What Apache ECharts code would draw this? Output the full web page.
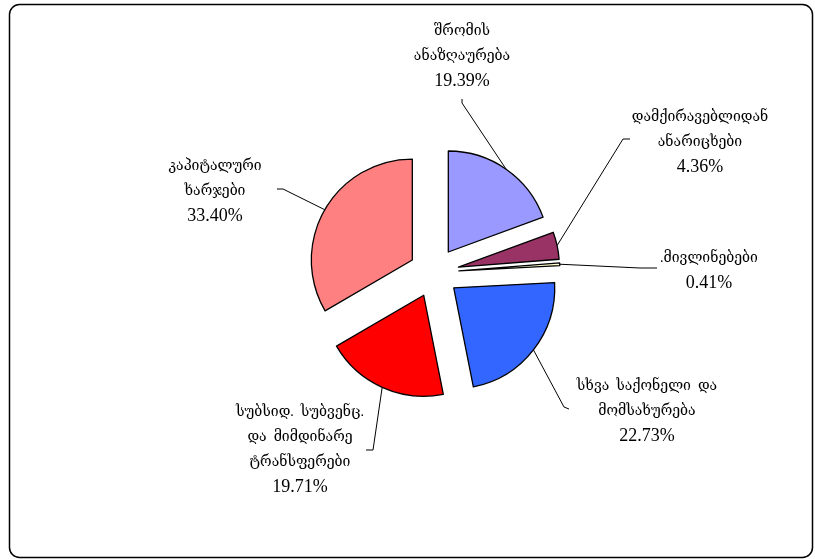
<!DOCTYPE html>
<html>
<head>
<meta charset="utf-8">
<script src="https://cdn.jsdelivr.net/npm/echarts@6/dist/echarts.min.js"></script>
<style>
  html, body { margin: 0; padding: 0; background: #fff; }
  #chart { width: 815px; height: 559px; }
</style>
</head>
<body>
<div id="chart"></div>
<script>
// ---- data ----
const categories = [
  'შრომის\nანაზღაურება',
  'დამქირავებლიდან\nანარიცხები',
  '.მივლინებები',
  'სხვა  საქონელი  და\nმომსახურება',
  'სუბსიდ.  სუბვენც.\nდა  მიმდინარე\nტრანსფერები',
  'კაპიტალური\nხარჯები'
];
const values = [19.39, 4.36, 0.41, 22.73, 19.71, 33.40];

// ---- styling / layout (kept apart from the data) ----
const sliceColors = ['#9999FF', '#993366', '#FFFFCC', '#3366FF', '#FF0000', '#FF8080'];
const labelCenters = [[462, 56], [700, 142], [709, 271], [647, 411], [300, 449.5], [215, 191]];
const guideTails = [
  [[462, 103], [462, 99]],
  [[623, 139], [630, 139]],
  [[640, 268], [657, 268]],
  [[564, 407], [569, 409]],
  [[373, 450], [366, 450]],
  [[283, 189], [277, 189]]
];
const explode = 25;
const FONT = '"Liberation Serif", "DejaVu Serif", "Times New Roman", serif';

const chart = echarts.init(document.getElementById('chart'), null, { renderer: 'canvas' });

const sliceData = values.map((v, i) => ({
  name: categories[i],
  value: v,
  selected: true,
  itemStyle: { color: sliceColors[i] }
}));
const labelData = values.map((v, i) => ({ name: categories[i], value: v }));

const option = {
  animation: false,
  backgroundColor: '#fff',
  graphic: [{
    type: 'rect',
    shape: { x: 9.5, y: 4.5, width: 803, height: 553, r: 10 },
    style: { fill: 'none', stroke: '#000', lineWidth: 1.5 },
    silent: true,
    z: 0
  }],
  series: [
    {
      type: 'pie',
      center: [434, 272.5],
      radius: 101,
      startAngle: 90,
      clockwise: true,
      selectedMode: 'multiple',
      selectedOffset: explode,
      avoidLabelOverlap: false,
      label: { show: false },
      labelLine: { show: false },
      itemStyle: { borderColor: '#000', borderWidth: 1.3 },
      select: { itemStyle: { borderColor: '#000', borderWidth: 1.3 } },
      emphasis: { disabled: true },
      data: sliceData
    },
    {
      type: 'pie',
      center: [434, 272.5],
      radius: 101,
      startAngle: 90,
      clockwise: true,
      silent: true,
      avoidLabelOverlap: false,
      itemStyle: { color: 'rgba(0,0,0,0)', borderWidth: 0 },
      emphasis: { disabled: true },
      label: {
        show: true,
        position: 'outside',
        color: '#000',
        fontFamily: FONT,
        fontSize: 18,
        lineHeight: 25,
        align: 'center',
        formatter: p => p.name.split('\n').map(s => '{g|' + s + '}').join('\n') +
          '\n{p|' + p.value.toFixed(2) + '%}',
        rich: {
          g: { fontFamily: FONT, fontSize: 14, lineHeight: 25, color: '#000', align: 'center' },
          p: { fontFamily: FONT, fontSize: 18, lineHeight: 25, color: '#000', align: 'center' }
        }
      },
      labelLine: {
        show: true,
        length: 10,
        length2: 5,
        smooth: false,
        lineStyle: { color: '#000', width: 1 }
      },
      labelLayout: function (params) {
        const i = params.dataIndex;
        const pts = params.labelLinePoints;
        let start = null;
        if (pts && pts.length >= 2) {
          const ux = pts[1][0] - pts[0][0];
          const uy = pts[1][1] - pts[0][1];
          const len = Math.sqrt(ux * ux + uy * uy) || 1;
          start = [pts[0][0] + ux / len * explode, pts[0][1] + uy / len * explode];
        }
        const out = {
          x: labelCenters[i][0],
          y: labelCenters[i][1],
          align: 'center',
          verticalAlign: 'middle'
        };
        if (start) {
          out.labelLinePoints = [start, guideTails[i][0], guideTails[i][1]];
        }
        return out;
      },
      data: labelData
    }
  ]
};
chart.setOption(option);
</script>
</body>
</html>
